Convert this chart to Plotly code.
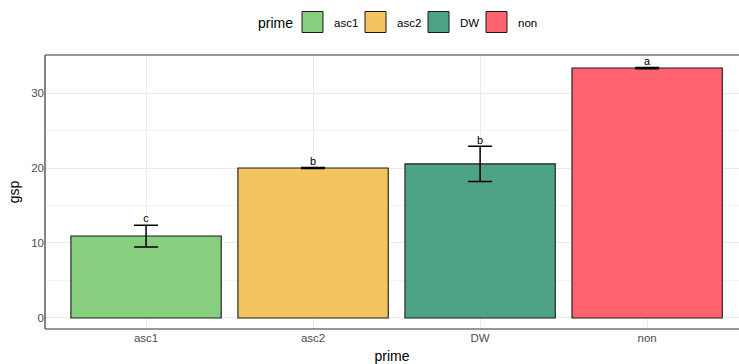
import plotly.graph_objects as go

# Group means, standard errors and significance letters
primes = ["asc1", "asc2", "DW", "non"]
gsp_mean = [10.93, 20.0, 20.55, 33.33]
gsp_se = [1.45, 0.08, 2.35, 0.08]
letters = ["c", "b", "b", "a"]
fills = ["#87CE7E", "#F2C55E", "#4FA385", "#FF6370"]

FONT = "Liberation Sans, Arial, sans-serif"
W, H = 739, 364
ML, MR, MT, MB = 45, 0, 55, 35


def px_x(px):
    return (px - ML) / (W - ML - MR)


def px_y(py):
    return (H - MB - py) / (H - MT - MB)


fig = go.Figure()
for p, m, se, c in zip(primes, gsp_mean, gsp_se, fills):
    fig.add_trace(go.Bar(
        x=[p], y=[m], name=p, width=0.9,
        marker=dict(color=c, line=dict(color="#1a1a1a", width=1.1)),
        error_y=dict(type="data", array=[se], visible=True,
                     color="black", thickness=1.5, width=12),
        showlegend=False,
    ))

# Letters just above each error bar
fig.add_trace(go.Scatter(
    x=primes, y=[m + s for m, s in zip(gsp_mean, gsp_se)],
    mode="text", text=letters, textposition="top center",
    textfont=dict(family=FONT, size=11, color="black"),
    showlegend=False, hoverinfo="skip",
))

# Panel border (left, top, bottom)
for x0, y0, x1, y1 in [(0, 0, 0, 1), (0, 1, 1, 1), (0, 0, 1, 0)]:
    fig.add_shape(type="line", xref="paper", yref="paper",
                  x0=x0, y0=y0, x1=x1, y1=y1,
                  line=dict(color="#333333", width=1.2), layer="above")

# Legend drawn above the panel with large square keys
key_left = [302, 365, 428, 486]
key_size = 21
key_cy = 22
fig.add_annotation(xref="paper", yref="paper", x=px_x(295), y=px_y(key_cy + 1),
                   text="prime", showarrow=False, xanchor="right", yanchor="middle",
                   font=dict(family=FONT, size=14, color="black"))
for p, c, kx in zip(primes, fills, key_left):
    fig.add_shape(type="rect", xref="paper", yref="paper",
                  x0=px_x(kx), x1=px_x(kx + key_size),
                  y0=px_y(key_cy - key_size / 2), y1=px_y(key_cy + key_size / 2),
                  fillcolor=c, line=dict(color="#1a1a1a", width=1))
    fig.add_annotation(xref="paper", yref="paper", x=px_x(kx + key_size + 9),
                       y=px_y(key_cy + 1), text=p, showarrow=False,
                       xanchor="left", yanchor="middle",
                       font=dict(family=FONT, size=11.5, color="black"))

fig.update_layout(
    width=W, height=H,
    margin=dict(l=ML, r=MR, t=MT, b=MB),
    paper_bgcolor="white", plot_bgcolor="white",
    font=dict(family=FONT, color="black"),
    barmode="overlay",
    showlegend=False,
    xaxis=dict(
        range=[-0.605, 3.55], showgrid=True, gridcolor="#EBEBEB", gridwidth=1,
        tickfont=dict(size=11.5, color="#4D4D4D"),
        title=dict(text="prime", font=dict(size=14, color="black"), standoff=8),
        ticks="", zeroline=False, showline=False,
    ),
    yaxis=dict(
        range=[-1.47, 35.07], tickvals=[0, 10, 20, 30],
        showgrid=True, gridcolor="#EBEBEB", gridwidth=1,
        minor=dict(tickvals=[5, 15, 25], showgrid=True, gridcolor="#F4F4F4", gridwidth=0.8),
        tickfont=dict(size=11.5, color="#4D4D4D"),
        title=dict(text="gsp", font=dict(size=14, color="black"), standoff=8),
        ticks="", zeroline=False, showline=False,
    ),
)

fig.write_html("out.html")
